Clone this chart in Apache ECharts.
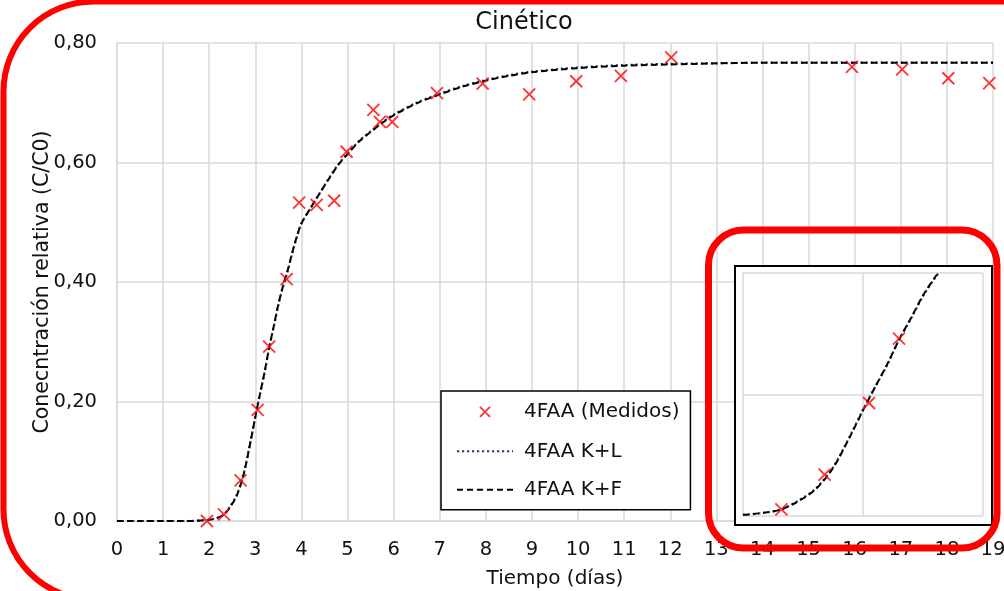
<!DOCTYPE html>
<html><head><meta charset="utf-8">
<script src="https://cdn.jsdelivr.net/npm/echarts@6/dist/echarts.min.js"></script>
<style>html,body{margin:0;padding:0;background:#fff}#c{width:1004px;height:591px}</style>
</head><body><div id="c"></div>
<script>
// Measured data (4FAA)
const medidosX = [1.95,2.32,2.68,3.05,3.30,3.68,3.95,4.33,4.71,4.98,5.56,5.70,5.97,6.94,7.93,8.94,9.96,10.93,12.02,15.94,17.03,18.03,18.92];
const medidosY = [0.000,0.011,0.068,0.186,0.292,0.405,0.533,0.529,0.536,0.618,0.688,0.668,0.668,0.716,0.732,0.714,0.736,0.745,0.776,0.760,0.756,0.741,0.733];
// Model curves
const modeloX = [0,0.5,1,1.5,2,2.2,2.32,2.45,2.6,2.75,2.9,3,3.1,3.2,3.3,3.4,3.5,3.6,3.7,3.8,3.9,4,4.2,4.4,4.6,4.8,5,5.25,5.5,5.75,6,6.5,7,7.5,8,8.5,9,10,11,12,13,14,15,16,17,18,19];
const kLY = [0,0,0,0,0.002,0.006,0.011,0.024,0.044,0.08,0.135,0.175,0.212,0.248,0.29,0.325,0.362,0.392,0.418,0.448,0.475,0.498,0.524,0.549,0.574,0.597,0.615,0.636,0.652,0.667,0.68,0.70,0.715,0.728,0.738,0.746,0.752,0.759,0.763,0.765,0.766,0.767,0.767,0.767,0.767,0.767,0.767];
const kFY = [0,0,0,0,0.002,0.006,0.011,0.023,0.043,0.079,0.134,0.174,0.212,0.249,0.29,0.326,0.363,0.393,0.419,0.449,0.476,0.498,0.524,0.549,0.573,0.596,0.614,0.635,0.651,0.666,0.679,0.699,0.714,0.727,0.737,0.745,0.751,0.758,0.762,0.764,0.766,0.767,0.767,0.767,0.767,0.767,0.767];
const yTickLabels = ['0,00','0,20','0,40','0,60','0,80'];
const seriesNames = ['4FAA (Medidos)','4FAA K+L','4FAA K+F'];

const FONT = 'DejaVu Sans';
const zip = (xs, ys) => xs.map((x, i) => [x, ys[i]]);
const crossPath = 'path://M0,0L10,10M10,0L0,10';
const crossLegend = 'path://M0,0M20,20M5,5L15,15M15,5L5,15';

const chart = echarts.init(document.getElementById('c'), null, {renderer: 'canvas'});
const gridLine = {show: true, lineStyle: {color: '#D9D9D9', width: 1.5}};

function makeSeries(idx, zBase) {
  return [
    {name: seriesNames[1], type: 'line', xAxisIndex: idx, yAxisIndex: idx, data: zip(modeloX, kLY),
     showSymbol: false, symbol: 'none', smooth: 0.3, z: zBase,
     itemStyle: {color: '#203864'},
     lineStyle: {color: '#203864', width: 2.2, type: [2.2, 2.8]}},
    {name: seriesNames[2], type: 'line', xAxisIndex: idx, yAxisIndex: idx, data: zip(modeloX, kFY),
     showSymbol: false, symbol: 'none', smooth: 0.3, z: zBase + 1,
     itemStyle: {color: '#000000'},
     lineStyle: {color: '#000000', width: 2, type: [6, 4]}},
    {name: seriesNames[0], type: 'scatter', xAxisIndex: idx, yAxisIndex: idx, data: zip(medidosX, medidosY),
     symbol: crossPath, symbolSize: 12, z: zBase + 2,
     itemStyle: {color: '#FF0000', borderColor: '#FF0000', borderWidth: 1.8}}
  ];
}

chart.setOption({
  animation: false,
  backgroundColor: '#ffffff',
  title: {text: 'Cinético', left: 519, top: 6, textAlign: 'center',
    textStyle: {fontFamily: FONT, fontSize: 24, fontWeight: 'normal', color: '#111'}},
  legend: {
    data: [
      {name: seriesNames[0], icon: crossLegend, itemStyle: {borderWidth: 1.8, borderColor: '#FF0000', color: '#FF0000'}},
      {name: seriesNames[1], itemStyle: {opacity: 0}},
      {name: seriesNames[2], itemStyle: {opacity: 0}}
    ],
    orient: 'vertical', left: 441, top: 391,
    itemWidth: 56, itemHeight: 20, itemGap: 18.5,
    padding: [10, 11, 10, 15],
    backgroundColor: '#ffffff', borderColor: '#000000', borderWidth: 1.5, borderRadius: 0,
    selectedMode: false,
    textStyle: {fontFamily: FONT, fontSize: 20, color: '#111', padding: [0, 0, 0, 6]}
  },
  grid: [
    {left: 117, top: 43, width: 876, height: 478, containLabel: false, outerBoundsMode: 'none'},
    {left: 743, top: 273, width: 240, height: 243, containLabel: false, outerBoundsMode: 'none'}
  ],
  xAxis: [
    {type: 'value', gridIndex: 0, min: 0, max: 19, interval: 1,
     name: 'Tiempo (días)', nameLocation: 'middle', nameGap: 48, nameMoveOverlap: false,
     nameTextStyle: {fontFamily: FONT, fontSize: 20, color: '#111'},
     axisLine: {show: true, lineStyle: {color: '#D9D9D9', width: 1.5}},
     axisTick: {show: false}, splitLine: gridLine,
     axisLabel: {fontFamily: FONT, fontSize: 19.5, color: '#111', margin: 19}},
    {type: 'value', gridIndex: 1, min: 2, max: 4, interval: 1, z: 3,
     axisLine: {show: false}, axisTick: {show: false}, axisLabel: {show: false}, splitLine: gridLine}
  ],
  yAxis: [
    {type: 'value', gridIndex: 0, min: 0, max: 0.8, interval: 0.2,
     name: 'Conecntración relativa (C/C0)', nameLocation: 'middle', nameGap: 64, nameMoveOverlap: false,
     nameTextStyle: {fontFamily: FONT, fontSize: 20.5, color: '#111'},
     axisLine: {show: true, lineStyle: {color: '#D9D9D9', width: 1.5}},
     axisTick: {show: false}, splitLine: gridLine,
     axisLabel: {fontFamily: FONT, fontSize: 19.5, color: '#111', margin: 20,
       formatter: v => yTickLabels[Math.round(v / 0.2)]}},
    {type: 'value', gridIndex: 1, min: 0, max: 0.4, interval: 0.2, z: 3,
     axisLine: {show: false}, axisTick: {show: false}, axisLabel: {show: false}, splitLine: gridLine}
  ],
  graphic: [
    {type: 'rect', z: 1, shape: {x: 735, y: 266, width: 257, height: 259},
     style: {fill: '#ffffff', stroke: '#000000', lineWidth: 2}},
    {type: 'rect', z: 100, silent: true, shape: {x: 3.5, y: 1.5, width: 1150, height: 598, r: 90},
     style: {fill: null, stroke: '#FF0000', lineWidth: 6}},
    {type: 'rect', z: 100, silent: true, shape: {x: 708.5, y: 230, width: 288.5, height: 318, r: 35},
     style: {fill: null, stroke: '#FF0000', lineWidth: 7}}
  ],
  series: [].concat(makeSeries(0, 2), makeSeries(1, 5))
});
</script>
</body></html>
